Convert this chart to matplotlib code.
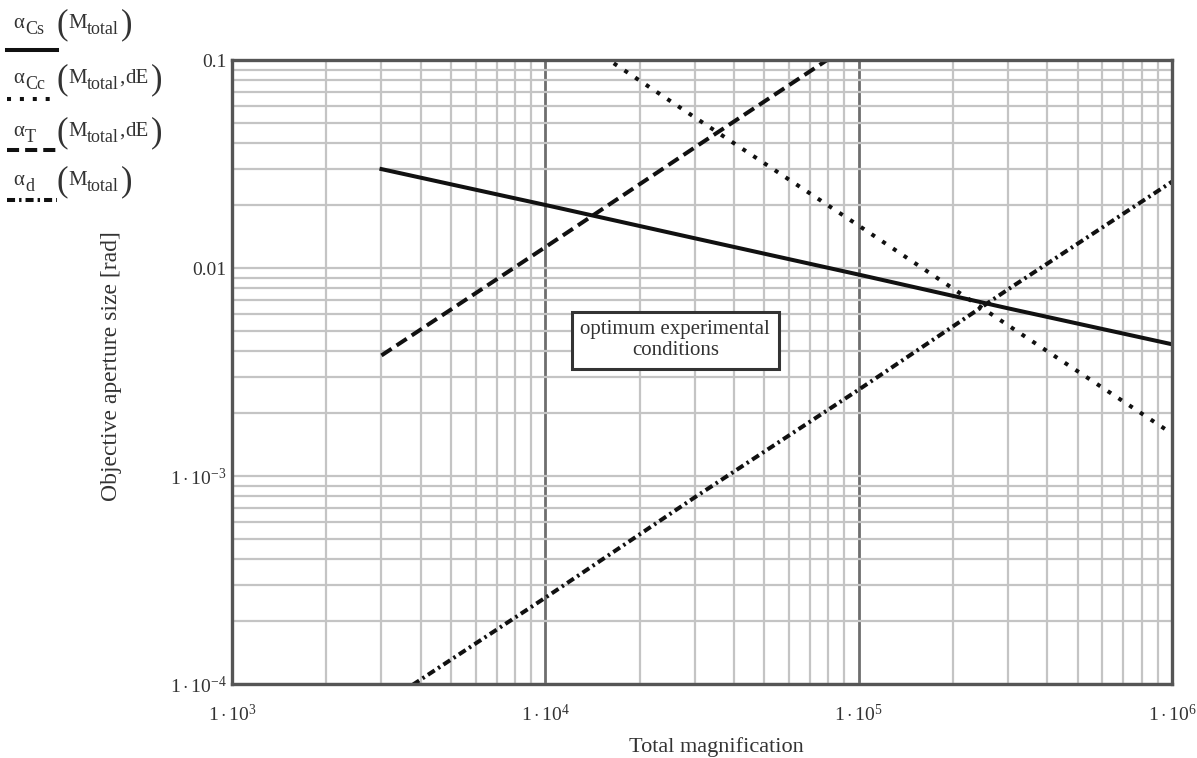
import matplotlib
matplotlib.use('Agg')
import matplotlib.pyplot as plt
from matplotlib.lines import Line2D

plt.rcParams['font.family'] = 'Liberation Serif'
plt.rcParams['mathtext.fontset'] = 'custom'
plt.rcParams['mathtext.rm'] = 'Liberation Serif'
plt.rcParams['mathtext.it'] = 'Liberation Serif:italic'
plt.rcParams['mathtext.bf'] = 'Liberation Serif:bold'

# total magnification
m_total = [3e3, 1e4, 3e4, 1e5, 3e5, 1e6]

# objective aperture limits [rad]
alpha_cs = [0.0299, 0.0201, 0.0139, 0.0093, 0.0064, 0.0043]   # spherical aberration
alpha_cc = [0.53, 0.16, 0.053, 0.016, 0.0053, 0.0016]          # chromatic aberration
alpha_t = [0.0038, 0.0126, 0.038, 0.126, 0.38, 1.26]           # T
alpha_d = [7.9e-5, 2.6e-4, 7.9e-4, 2.6e-3, 7.9e-3, 0.026]      # diffraction

x_ticks = [1e3, 1e4, 1e5, 1e6]
x_labels = [r'$1\cdot10^{3}$', r'$1\cdot10^{4}$', r'$1\cdot10^{5}$', r'$1\cdot10^{6}$']
y_ticks = [1e-4, 1e-3, 1e-2, 1e-1]
y_labels = [r'$1\cdot10^{-4}$', r'$1\cdot10^{-3}$', '0.01', '0.1']

# legend entries: (subscript of alpha, arguments)
legend_subs = ['Cs', 'Cc', 'T', 'd']
legend_args = [None, 'dE', 'dE', None]

ink = '#111111'
text_col = '#333333'
lw = 2.9

styles = [
    dict(linestyle='-'),
    dict(linestyle=(0, (1.0, 2.2))),
    dict(linestyle=(0, (3.0, 1.5))),
    dict(linestyle=(0, (2.0, 1.0, 0.6, 1.0))),
]

fig = plt.figure(figsize=(11.97, 7.58), dpi=100)
ax = fig.add_axes([0.1938, 0.0976, 0.7853, 0.8232])

series = [alpha_cs, alpha_cc, alpha_t, alpha_d]
for vals, st in zip(series, styles):
    ax.plot(m_total, vals, color=ink, lw=lw, **st)

ax.set_xscale('log')
ax.set_yscale('log')
ax.set_xlim(1e3, 1e6)
ax.set_ylim(1e-4, 0.1)

ax.set_xticks(x_ticks)
ax.set_xticklabels(x_labels)
ax.set_yticks(y_ticks)
ax.set_yticklabels(y_labels)
ax.tick_params(which='both', length=0, labelsize=14, colors=text_col)
ax.tick_params(axis='x', pad=14)
ax.tick_params(axis='y', pad=4)

# grid: light minor lines, darker vertical decades
ax.grid(which='minor', color='#c4c4c4', lw=1.6)
ax.grid(which='major', axis='y', color='#c4c4c4', lw=1.6)
ax.grid(which='major', axis='x', color='#6e6e6e', lw=2.0)
ax.set_axisbelow(True)

for sp in ax.spines.values():
    sp.set_color('#555555')
    sp.set_linewidth(2.4)

ax.set_xlabel('Total magnification', fontsize=16, color=text_col)
ax.set_ylabel('Objective aperture size [rad]', fontsize=17, color=text_col)
ax.xaxis.set_label_coords(0.515, -0.085)
ax.yaxis.set_label_coords(-0.117, 0.51)

ax.text(2.6e4, 4.5e-3, 'optimum experimental\nconditions', ha='center', va='center',
        fontsize=15, color=text_col, linespacing=1.15,
        bbox=dict(boxstyle='square,pad=0.4', fc='white', ec='#333333', lw=2.2))

# legend block in the upper left corner, built piece by piece (pixel coords)
W, H = 1197, 758
renderer = fig.canvas.get_renderer()


def put(x, y, s, size):
    t = fig.text(x / W, 1 - y / H, s, fontsize=size, color=text_col, va='baseline', ha='left')
    return x + t.get_window_extent(renderer).width


baselines = [28, 83, 136, 185]
line_y = [50, 99, 150, 200]
for sub, arg, yb, ly, st in zip(legend_subs, legend_args, baselines, line_y, styles):
    x = put(13, yb, 'α', 15)
    put(x + 1, yb + 6, sub, 13)
    x = put(56, yb + 5, '(', 25)
    x = put(x + 1, yb, 'M', 15)
    x = put(x, yb + 6, 'total', 13)
    if arg:
        x = put(x, yb, ',', 15)
        x = put(x + 1, yb, arg, 15)
    put(x + 2, yb + 5, ')', 25)
    fig.add_artist(Line2D([7 / W, 57 / W], [1 - ly / H, 1 - ly / H], color=ink, lw=lw,
                          transform=fig.transFigure, **st))

fig.savefig('out.png', dpi=100)
